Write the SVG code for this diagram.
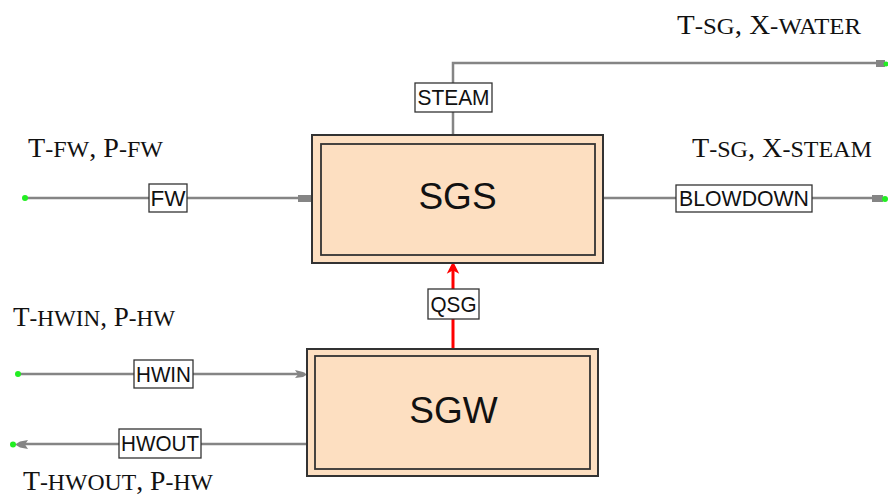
<svg xmlns="http://www.w3.org/2000/svg" width="888" height="498" viewBox="0 0 888 498">
<style>
.pipe{fill:none;stroke:#858585;stroke-width:2.5}
.heat{fill:none;stroke:#ff0000;stroke-width:3}
.lbl{fill:#fff;stroke:#333;stroke-width:1.3}
.lt{font-family:"Liberation Sans",Arial,sans-serif;font-size:22px;fill:#111;text-anchor:middle}
.outer{fill:#fddfc1;stroke:#333;stroke-width:2}
.inner{fill:#fddfc1;stroke:#333;stroke-width:1.8}
.big{font-family:"Liberation Sans",Arial,sans-serif;font-size:37px;fill:#111;text-anchor:middle}
.var{font-family:"Liberation Serif","Times New Roman",serif;font-size:27.5px;fill:#111}
.sc{font-size:23.5px}
.dot{fill:#22ee22}
.end{fill:#858585}
</style>
<g id="connectors">
  <g id="c-steam">
    <polyline class="pipe" points="453,135 453,63 878,63"/>
    <rect class="end" x="876" y="60" width="9" height="7"/>
    <circle class="dot" cx="886" cy="64" r="2.5"/>
    <rect class="lbl" x="415" y="83" width="77" height="29"/>
    <text class="lt" x="453.5" y="105" textLength="72" lengthAdjust="spacingAndGlyphs">STEAM</text>
  </g>
  <g id="c-fw">
    <line class="pipe" x1="25" y1="198" x2="300" y2="198"/>
    <rect class="end" x="298" y="195" width="13" height="7"/>
    <circle class="dot" cx="25" cy="198" r="3"/>
    <rect class="lbl" x="149" y="184" width="38" height="28"/>
    <text class="lt" x="168" y="205.5" textLength="35" lengthAdjust="spacingAndGlyphs">FW</text>
  </g>
  <g id="c-blowdown">
    <line class="pipe" x1="603" y1="198" x2="875" y2="198"/>
    <rect class="end" x="872" y="195" width="11" height="7"/>
    <circle class="dot" cx="885" cy="199" r="3"/>
    <rect class="lbl" x="676" y="185" width="136" height="27"/>
    <text class="lt" x="744" y="206" textLength="130" lengthAdjust="spacingAndGlyphs">BLOWDOWN</text>
  </g>
  <g id="c-qsg">
    <line class="heat" x1="453" y1="349" x2="453" y2="266"/>
    <path d="M453,263 L448.5,272 L453,269.5 L457.5,272 Z" fill="#ff0000" stroke="#ff0000" stroke-width="1.5"/>
    <rect class="lbl" x="428" y="289" width="51" height="30"/>
    <text class="lt" x="453.5" y="311.5" textLength="46" lengthAdjust="spacingAndGlyphs">QSG</text>
  </g>
  <g id="c-hwin">
    <line class="pipe" x1="18" y1="374" x2="305" y2="374"/>
    <path d="M295,370 L303,372 L307,374.5 L303,377 L295,378 L298,374.5 Z" class="end"/>
    <circle class="dot" cx="18" cy="374" r="3"/>
    <rect class="lbl" x="134" y="360" width="59" height="28"/>
    <text class="lt" x="163.5" y="381.5" textLength="55" lengthAdjust="spacingAndGlyphs">HWIN</text>
  </g>
  <g id="c-hwout">
    <line class="pipe" x1="307" y1="444" x2="22" y2="444"/>
    <path d="M28,440 L20,441.5 L15,444.5 L20,447.5 L28,449 L25,444.5 Z" class="end"/>
    <circle class="dot" cx="13" cy="444.5" r="3"/>
    <rect class="lbl" x="119" y="429" width="82" height="29"/>
    <text class="lt" x="160" y="451" textLength="78" lengthAdjust="spacingAndGlyphs">HWOUT</text>
  </g>
</g>
<g id="node-sgs">
  <rect class="outer" x="312" y="135" width="291" height="128"/>
  <rect class="inner" x="321" y="144" width="274" height="111"/>
  <text class="big" x="457.5" y="209">SGS</text>
</g>
<g id="node-sgw">
  <rect class="outer" x="307" y="349" width="291" height="127"/>
  <rect class="inner" x="315" y="356" width="275" height="113"/>
  <text class="big" x="453.5" y="423">SGW</text>
</g>
<g id="labels">
  <text class="var" x="677" y="34" textLength="184" lengthAdjust="spacingAndGlyphs">T<tspan class="sc">-SG</tspan>, X<tspan class="sc">-WATER</tspan></text>
  <text class="var" x="28" y="157" textLength="135" lengthAdjust="spacingAndGlyphs">T<tspan class="sc">-FW</tspan>, P<tspan class="sc">-FW</tspan></text>
  <text class="var" x="692" y="157" textLength="180" lengthAdjust="spacingAndGlyphs">T<tspan class="sc">-SG</tspan>, X<tspan class="sc">-STEAM</tspan></text>
  <text class="var" x="13" y="326" textLength="162" lengthAdjust="spacingAndGlyphs">T<tspan class="sc">-HWIN</tspan>, P<tspan class="sc">-HW</tspan></text>
  <text class="var" x="23" y="490" textLength="190" lengthAdjust="spacingAndGlyphs">T<tspan class="sc">-HWOUT</tspan>, P<tspan class="sc">-HW</tspan></text>
</g>
</svg>
